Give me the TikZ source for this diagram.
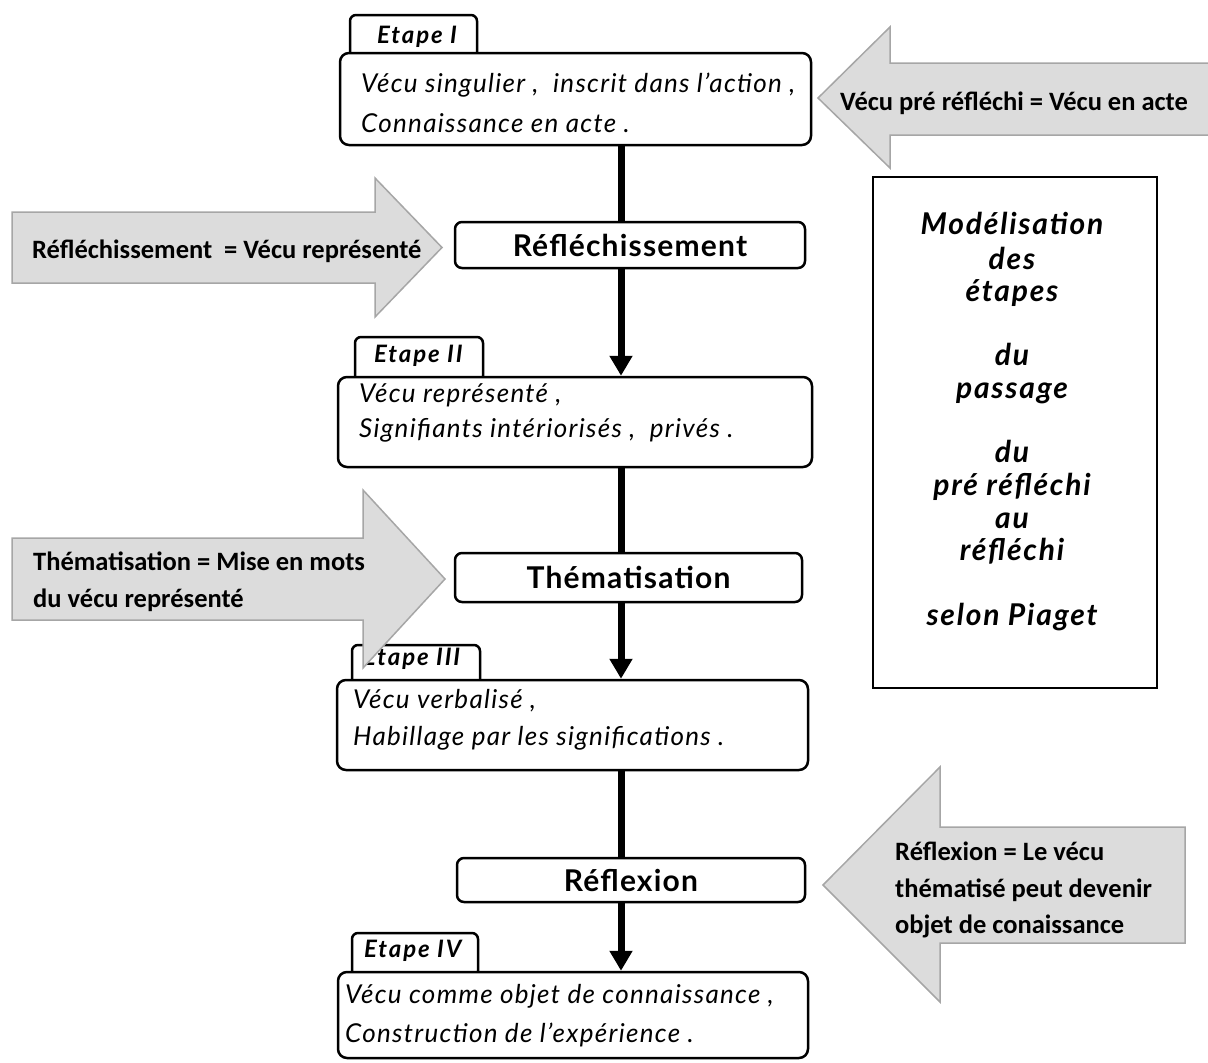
\documentclass[tikz,border=0pt]{standalone}
\usepackage{fontspec}
\setmainfont{Carlito}
\newfontfamily\gillit[LetterSpace=5]{Lato}
\newfontfamily\gilltab[LetterSpace=8]{Lato}
\newfontfamily\gillside[LetterSpace=6]{Lato}
\newfontfamily\gillmid[LetterSpace=4]{Lato}
\usetikzlibrary{arrows.meta}
\definecolor{arrowfill}{HTML}{DCDCDC}
\definecolor{arrowline}{HTML}{A6A6A6}
\begin{document}
\begin{tikzpicture}[x=1pt,y=-1pt,
  stagebox/.style={draw, line width=2.5pt, rounded corners=9pt, fill=white, inner sep=0pt},
  tabbox/.style={draw, line width=2.5pt, rounded corners=6pt, fill=white, inner sep=0pt},
  midbox/.style={draw, line width=2.5pt, rounded corners=7pt, fill=white, inner sep=0pt,
    font=\gillmid\bfseries\fontsize{30}{35}\selectfont},
  stagetext/.style={anchor=base west, inner sep=0pt, font=\gillit\itshape\fontsize{26}{31}\selectfont},
  tabtext/.style={anchor=base west, inner sep=0pt, font=\gilltab\bfseries\itshape\fontsize{24}{28}\selectfont},
  sidetext/.style={anchor=base, inner sep=0pt, font=\gillside\bfseries\itshape\fontsize{30}{35}\selectfont},
  graytext/.style={anchor=base west, inner sep=0pt, font=\bfseries\fontsize{26.5}{31}\selectfont},
  grayarrow/.style={fill=arrowfill, draw=arrowline, line width=1.5pt},
  link/.style={line width=7pt},
  flow/.style={line width=7pt, -{Triangle[width=22pt,length=20pt]}}
]
\useasboundingbox (0,0) rectangle (1208,1063);
\clip (0,0) rectangle (1208,1063);
\coordinate (spine) at (621,0);

% tabs
\node[tabbox, minimum width=127pt, minimum height=45pt] (tab1) at (413.5,37.5) {};
\node[tabbox, minimum width=128pt, minimum height=45pt] (tab2) at (419,359.5) {};
\node[tabbox, minimum width=128pt, minimum height=42pt] (tab3) at (416,666) {};
\node[tabbox, minimum width=126pt, minimum height=44pt] (tab4) at (415,955) {};
\node[tabtext] (tt1) at (377,43) {Etape I};
\node[tabtext] (tt2) at (374,362) {Etape II};
\node[tabtext] (tt3) at (363,665) {Etape III};
\node[tabtext] (tt4) at (364,957) {Etape IV};

% stage boxes
\node[stagebox, minimum width=471pt, minimum height=92pt] (box1) at (575.5,99) {};
\node[stagebox, minimum width=474pt, minimum height=90pt] (box2) at (575,422) {};
\node[stagebox, minimum width=471pt, minimum height=90pt] (box3) at (572.5,725) {};
\node[stagebox, minimum width=470pt, minimum height=86pt] (box4) at (573,1015) {};

\node[stagetext] (s1a) at (361,92) {Vécu singulier ,\ \ inscrit dans l’action ,};
\node[stagetext] (s1b) at (361,132) {Connaissance en acte .};
\node[stagetext] (s2a) at (359,402) {Vécu représenté ,};
\node[stagetext] (s2b) at (359,437) {Signifiants intériorisés ,\ \ privés .};
\node[stagetext] (s3a) at (353,708) {Vécu verbalisé ,};
\node[stagetext] (s3b) at (353,745) {Habillage par les significations .};
\node[stagetext] (s4a) at (345,1003) {Vécu comme objet de connaissance ,};
\node[stagetext] (s4b) at (345,1042) {Construction de l’expérience .};

% middle boxes
\node[midbox, minimum width=350pt, minimum height=46pt] (refl) at (630,245) {Réfléchissement};
\node[midbox, minimum width=347pt, minimum height=49pt] (them) at (628.5,577.5) {Thématisation};
\node[midbox, minimum width=348pt, minimum height=44pt] (reflex) at (631,880) {Réflexion};

% connectors
\draw[link] (box1.south -| spine) -- (refl.north -| spine);
\draw[flow] (refl.south -| spine) -- (box2.north -| spine);
\draw[link] (box2.south -| spine) -- (them.north -| spine);
\draw[flow] (them.south -| spine) -- (box3.north -| spine);
\draw[link] (box3.south -| spine) -- (reflex.north -| spine);
\draw[flow] (reflex.south -| spine) -- (box4.north -| spine);

% right box
\node[draw, line width=2.5pt, minimum width=284pt, minimum height=511pt, inner sep=0pt] (model) at (1015,432.5) {};
\node[sidetext] (m1) at (1012,234) {Modélisation};
\node[sidetext] (m2) at (1012,269) {des};
\node[sidetext] (m3) at (1012,301) {étapes};
\node[sidetext] (m4) at (1012,365) {du};
\node[sidetext] (m5) at (1012,398) {passage};
\node[sidetext] (m6) at (1012,462) {du};
\node[sidetext] (m7) at (1012,495) {pré réfléchi};
\node[sidetext] (m8) at (1012,528) {au};
\node[sidetext] (m9) at (1012,560) {réfléchi};
\node[sidetext] (m10) at (1012,625) {selon Piaget};

% gray arrows
\draw[grayarrow] (818,98) -- (890,27) -- (890,63) -- (1215,63) -- (1215,135) -- (890,135) -- (890,168) -- cycle;
\node[graytext] (g1) at (840,110) {Vécu pré réfléchi = Vécu en acte};

\draw[grayarrow] (12,212) -- (375,212) -- (375,178) -- (442,247.5) -- (375,317) -- (375,283) -- (12,283) -- cycle;
\node[graytext] (g2) at (32,258) {Réfléchissement\ \ = Vécu représenté};

\draw[grayarrow] (12,538) -- (363,538) -- (363,490) -- (445,579) -- (363,668) -- (363,620) -- (12,620) -- cycle;
\node[graytext] (g3a) at (33,570) {Thématisation = Mise en mots};
\node[graytext] (g3b) at (33,607) {du vécu représenté};

\draw[grayarrow] (823,885) -- (940,767) -- (940,827) -- (1185,827) -- (1185,943) -- (940,943) -- (940,1002) -- cycle;
\node[graytext] (g4a) at (895,860) {Réflexion = Le vécu};
\node[graytext] (g4b) at (895,897) {thématisé peut devenir};
\node[graytext] (g4c) at (895,933) {objet de conaissance};
\end{tikzpicture}
\end{document}
